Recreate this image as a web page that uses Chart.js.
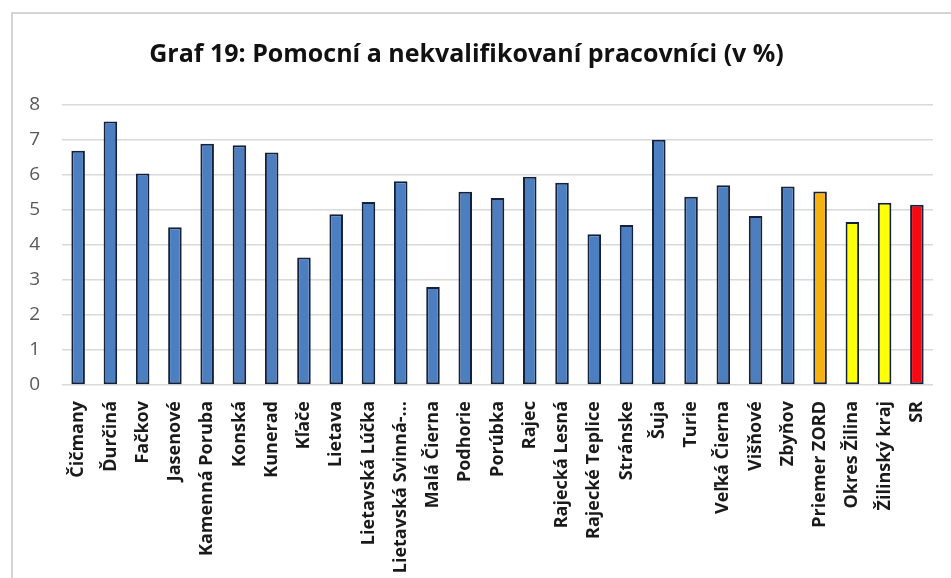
<!DOCTYPE html>
<html>
<head>
<meta charset="utf-8">
<script src="https://cdn.jsdelivr.net/npm/chart.js@4.4.1/dist/chart.umd.min.js"></script>
<style>
  html, body { margin: 0; padding: 0; background: #fff; }
  #wrap { width: 951px; height: 578px; position: relative; }
</style>
</head>
<body>
<div id="wrap"><canvas id="chart" width="951" height="578"></canvas></div>
<script>
// data
const categories = [
  "Čičmany", "Ďurčiná", "Fačkov", "Jasenové", "Kamenná Poruba", "Konská",
  "Kunerad", "Kľače", "Lietava", "Lietavská Lúčka", "Lietavská Svinná-…",
  "Malá Čierna", "Podhorie", "Porúbka", "Rajec", "Rajecká Lesná",
  "Rajecké Teplice", "Stránske", "Šuja", "Turie", "Veľká Čierna", "Višňové",
  "Zbyňov", "Priemer ZORD", "Okres Žilina", "Žilinský kraj", "SR"
];
const values = [
  6.69, 7.53, 6.04, 4.51, 6.89, 6.85,
  6.64, 3.64, 4.88, 5.23, 5.82,
  2.80, 5.52, 5.34, 5.95, 5.78,
  4.31, 4.57, 7.01, 5.38, 5.71, 4.83,
  5.67, 5.53, 4.66, 5.21, 5.15
];
const yTicks = [0, 1, 2, 3, 4, 5, 6, 7, 8];

const blue = "#4d7fc0";
const barColors = categories.map(c => {
  if (c === "Priemer ZORD") return "#f5b20f";
  if (c === "Okres Žilina" || c === "Žilinský kraj") return "#ffff0a";
  if (c === "SR") return "#f50a14";
  return blue;
});

// light frame around the chart, like the exported office chart
const framePlugin = {
  id: "frame",
  beforeDraw(chart) {
    const ctx = chart.ctx;
    ctx.save();
    ctx.strokeStyle = "#d4d4d4";
    ctx.lineWidth = 2;
    ctx.beginPath();
    ctx.moveTo(12, 578);
    ctx.lineTo(12, 13);
    ctx.lineTo(951, 13);
    ctx.stroke();
    ctx.restore();
  }
};

const ctx = document.getElementById("chart").getContext("2d");
new Chart(ctx, {
  type: "bar",
  data: {
    labels: categories,
    datasets: [{
      data: values,
      backgroundColor: barColors,
      borderColor: "#14213d",
      borderWidth: 2,
      borderSkipped: false,
      barPercentage: 0.42,
      categoryPercentage: 1.0
    }]
  },
  options: {
    responsive: false,
    animation: false,
    layout: { padding: { left: 0, right: 18, top: 0, bottom: 0 } },
    plugins: {
      legend: { display: false },
      tooltip: { enabled: false },
      title: {
        display: true,
        text: "Graf 19: Pomocní a nekvalifikovaní pracovníci (v %)",
        color: "#111",
        font: { family: "'Open Sans', sans-serif", size: 25, weight: "bold" },
        padding: { top: 40, bottom: 35 }
      }
    },
    scales: {
      x: {
        grid: { display: false },
        border: { display: false },
        ticks: {
          autoSkip: false,
          maxRotation: 90,
          minRotation: 90,
          padding: 8,
          color: "#1a1a1a",
          font: { family: "'Open Sans', sans-serif", size: 18, weight: "bold" }
        },
        afterFit(scale) { scale.height = 193; }
      },
      y: {
        min: 0,
        max: 8,
        afterBuildTicks(scale) { scale.ticks = yTicks.map(v => ({ value: v })); },
        grid: { color: "#d9d9d9", lineWidth: 1.5, drawTicks: false },
        border: { display: false },
        ticks: {
          padding: 22,
          color: "#595959",
          font: { family: "'Open Sans', sans-serif", size: 19 }
        },
        afterFit(scale) { scale.width = 62; }
      }
    }
  },
  plugins: [framePlugin]
});
</script>
</body>
</html>
